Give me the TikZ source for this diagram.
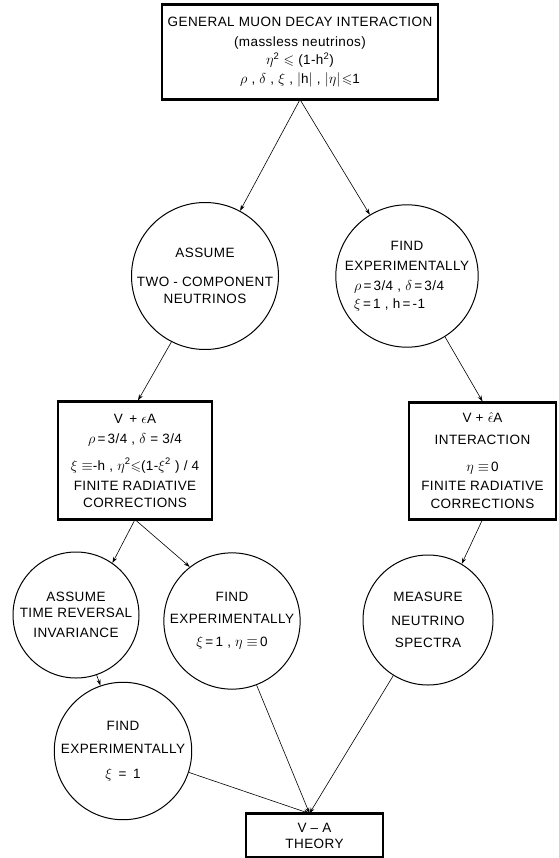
\documentclass[tikz,border=0pt]{standalone}
\usepackage{amssymb}
\usepackage{fontspec}
\setmainfont[LetterSpace=3]{Liberation Sans}
\usetikzlibrary{arrows.meta,calc}
\tikzset{
  lbl/.style={font=\fontsize{13.5}{20}\selectfont, align=center},
  bx/.style={lbl, draw, line width=1.1pt, inner sep=0pt},
  circ/.style={lbl, draw, circle, line width=1pt, inner sep=0pt},
  edge/.style={line width=2.4pt},
  conn/.style={line width=0.6pt, -{Stealth[length=6pt,width=4pt]}}
}
\begin{document}
\begin{tikzpicture}[x=1pt,y=-1pt]
\useasboundingbox (0,0) rectangle (558,858);
% boxes
\node[bx, minimum width=276pt, minimum height=94pt] (top) at (300,52)
  {GENERAL MUON DECAY INTERACTION\\(massless neutrinos)\\[-2pt]
   $\eta$\textsuperscript{2} $\leqslant$ (1-h\textsuperscript{2})\\[-1pt]
   $\rho$ , $\delta$ , $\xi$ , $|$h$|$ , $|\eta|\!\leqslant$1};
\node[bx, minimum width=154pt, minimum height=117pt] (lbox) at (135,460.5)
  {V \,+ $\epsilon$A\\ $\rho$\,=\,3/4 , $\delta$ = 3/4\\[7pt]
   $\xi\equiv$-h , $\eta$\textsuperscript{2}$\leqslant$(1-$\xi$\textsuperscript{2} ) / 4\\
   FINITE RADIATIVE\\[-3pt] CORRECTIONS};
\node[bx, minimum width=147pt, minimum height=116pt] (rbox) at (482.5,461)
  {V + $\hat\epsilon$A\\[2pt] INTERACTION\\[7pt] $\eta\equiv$\,0\\[-1pt]
   FINITE RADIATIVE\\[-2pt] CORRECTIONS};
\node[bx, minimum width=137pt, minimum height=43pt] (vabox) at (314.5,835.5)
  {V -- A\\[-4pt] THEORY};
% circles
\node[circ, minimum size=136pt] (c1) at (205,276)
  {ASSUME\\[9pt] TWO - COMPONENT\\[-3pt] NEUTRINOS};
\node[circ, minimum size=134pt] (c2) at (407,276)
  {FIND\\ EXPERIMENTALLY\\
   \makebox[106pt][l]{$\rho$\,=\,3/4 , $\delta$\,=\,3/4}\\[-2pt]
   \makebox[106pt][l]{$\xi$\,=\,1 , h\,=\,-1}};
\node[circ, minimum size=126pt] (c3) at (76,615)
  {ASSUME\\[-4pt] TIME REVERSAL\\ INVARIANCE};
\node[circ, minimum size=128pt] (c4) at (232,621)
  {FIND\\[2pt] EXPERIMENTALLY\\[3pt] $\xi$\,=\,1 , $\eta\equiv$\,0};
\node[circ, minimum size=130pt] (c5) at (428,620)
  {MEASURE\\[4pt] NEUTRINO\\[2pt] SPECTRA};
\node[circ, minimum size=130pt] (c6) at (123,751)
  {FIND\\[3pt] EXPERIMENTALLY\\[5pt] $\xi$ \,=\, 1};
% thick top/bottom edges of boxes
\foreach \b in {top,lbox,rbox,vabox}{
  \draw[edge] (\b.north west) -- (\b.north east);
  \draw[edge] (\b.south west) -- (\b.south east);
}
\coordinate (vtip) at ($(vabox.north)+(-5,0)$);
% connectors
\draw[conn] (top.south) -- (c1);
\draw[conn] (top.south) -- (c2);
\draw[conn] (c1.243) -- ($(lbox.north)+(3,-1)$);
\draw[conn] (c2.302) -- ($(rbox.north)+(0,-1)$);
\draw[conn] (lbox.south) -- (c3.55);
\draw[conn] (lbox.south) -- (c4.128);
\draw[conn] (rbox.south) -- (c5.59);
\draw[conn] (c3.289) -- (c6.109);
\draw[conn] (c6.342) -- (vtip);
\draw[conn] (c4.291) -- (vtip);
\draw[conn] (c5.238) -- (vtip);
\end{tikzpicture}
\end{document}
